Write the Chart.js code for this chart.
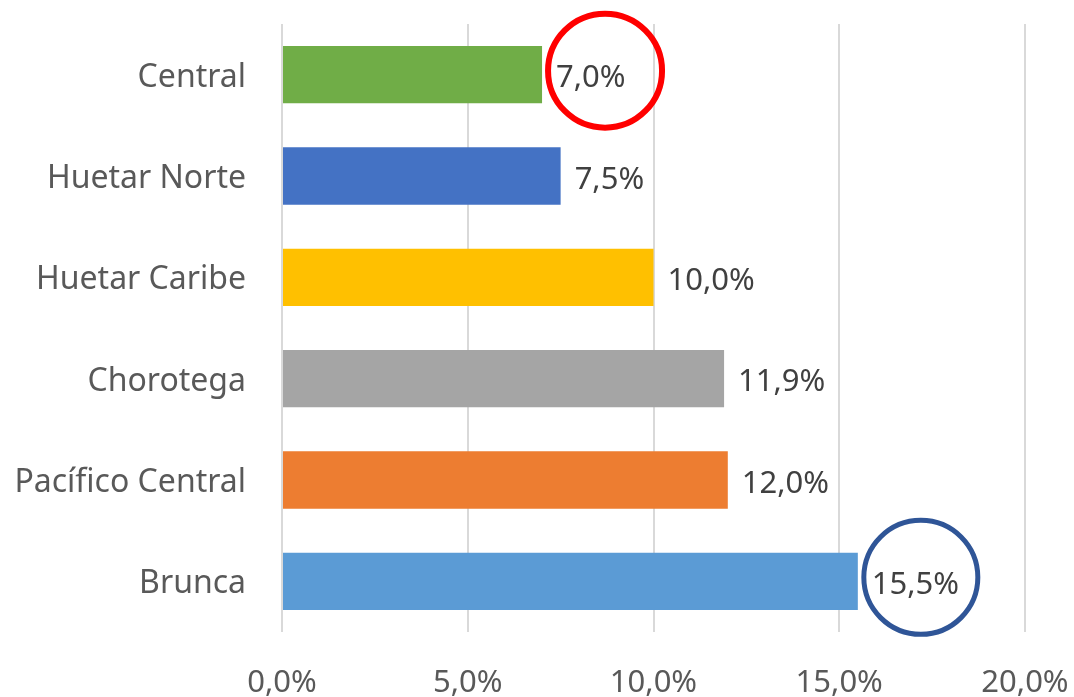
<!DOCTYPE html>
<html>
<head>
<meta charset="utf-8">
<script src="https://cdn.jsdelivr.net/npm/chart.js@4/dist/chart.umd.min.js"></script>
<style>
  html, body { margin: 0; padding: 0; background: #fff; }
  #wrap { width: 1074px; height: 697px; position: relative; }
</style>
</head>
<body>
<div id="wrap"><canvas id="regionChart"></canvas></div>
<script>
// regions, top to bottom
const regions = ['Central', 'Huetar Norte', 'Huetar Caribe', 'Chorotega', 'Pacífico Central', 'Brunca'];
const shares  = [7.0, 7.5, 10.0, 11.9, 12.0, 15.5];
const barColors = ['#70AD47', '#4472C4', '#FFC000', '#A5A5A5', '#ED7D31', '#5B9BD5'];
const xTicks  = [0, 5, 10, 15, 20];
// which bars get a ring around their label, and its colour
const ringed  = { 0: '#FF0000', 5: '#2F5597' };

const FONT = '"Noto Sans", "Open Sans", sans-serif';
const GREY = '#595959';

const fmt = v => v.toFixed(1).replace('.', ',') + '%';

// value labels at bar ends, plus the highlight rings
const labelPlugin = {
  id: 'barLabels',
  afterDatasetsDraw(chart) {
    const ctx = chart.ctx;
    const meta = chart.getDatasetMeta(0);
    ctx.save();
    ctx.font = '31px ' + FONT;
    ctx.fillStyle = '#404040';
    ctx.textAlign = 'left';
    ctx.textBaseline = 'middle';
    meta.data.forEach((bar, i) => {
      ctx.fillText(fmt(shares[i]), bar.x + 14, bar.y + 4);
      if (ringed[i]) {
        ctx.beginPath();
        ctx.lineWidth = i === 0 ? 6 : 5;
        ctx.strokeStyle = ringed[i];
        ctx.arc(bar.x + 63, bar.y - 4, 57, 0, Math.PI * 2);
        ctx.stroke();
      }
    });
    ctx.restore();
  }
};

new Chart(document.getElementById('regionChart'), {
  type: 'bar',
  data: {
    labels: regions,
    datasets: [{
      data: shares,
      backgroundColor: barColors,
      barPercentage: 0.565,
      categoryPercentage: 1.0,
    }],
  },
  options: {
    indexAxis: 'y',
    responsive: true,
    maintainAspectRatio: false,
    animation: false,
    layout: { padding: { top: 24, right: 49, left: 0, bottom: 0 } },
    plugins: { legend: { display: false }, tooltip: { enabled: false } },
    scales: {
      x: {
        min: 0,
        max: 20,
        afterBuildTicks: s => { s.ticks = xTicks.map(v => ({ value: v })); },
        afterFit: s => {
          s.height = 697 - 632;
          s.paddingLeft = 0;
          s.paddingRight = 0;
        },
        ticks: {
          callback: v => fmt(v),
          color: GREY,
          font: { family: FONT, size: 31 },
          padding: 33,
          maxRotation: 0,
        },
        grid: { color: '#D9D9D9', lineWidth: 2, drawTicks: false },
        border: { display: false },
      },
      y: {
        afterFit: s => {
          s.width = 282;
          s.paddingTop = 0;
          s.paddingBottom = 0;
        },
        ticks: {
          color: GREY,
          font: { family: FONT, size: 32 },
          padding: 28,
          labelOffset: 3,
        },
        grid: { display: false },
        border: { display: false },
      },
    },
  },
  plugins: [labelPlugin],
});
</script>
</body>
</html>
